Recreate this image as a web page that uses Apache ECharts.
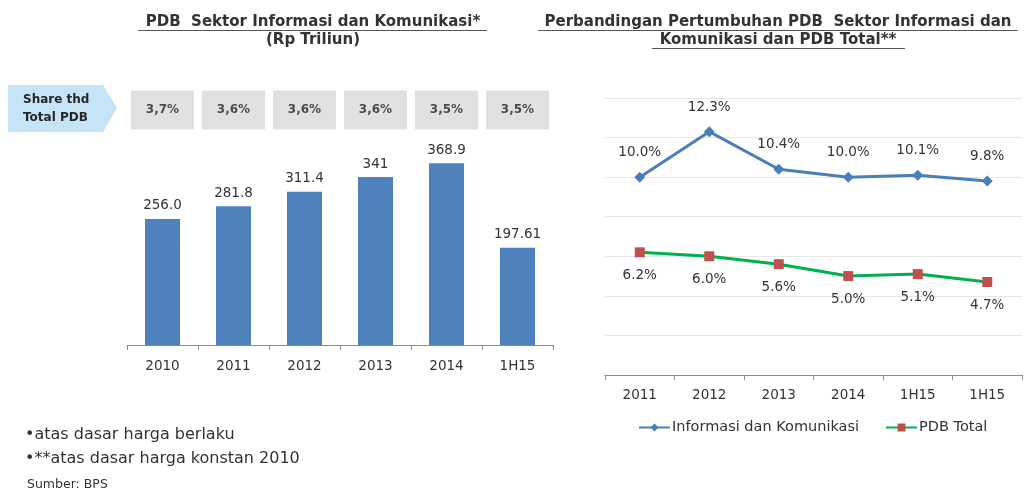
<!DOCTYPE html>
<html>
<head>
<meta charset="utf-8">
<script src="https://cdn.jsdelivr.net/npm/echarts@6/dist/echarts.min.js"></script>
<style>html,body{margin:0;padding:0;background:#fff}#c{width:1024px;height:495px}</style>
</head>
<body>
<div id="c"></div>
<script>
// Left chart data
var barCategories = ['2010', '2011', '2012', '2013', '2014', '1H15'];
var barValues = [256.0, 281.8, 311.4, 341, 368.9, 197.61];
var barLabels = ['256.0', '281.8', '311.4', '341', '368.9', '197.61'];
var shareLabels = ['3,7%', '3,6%', '3,6%', '3,6%', '3,5%', '3,5%'];
// Right chart data
var lineCategories = ['2011', '2012', '2013', '2014', '1H15', '1H15'];
var infoKomValues = [10.0, 12.3, 10.4, 10.0, 10.1, 9.8];
var pdbTotalValues = [6.2, 6.0, 5.6, 5.0, 5.1, 4.7];

var FONT = 'DejaVu Sans';
var TXT = '#333';
var chart = echarts.init(document.getElementById('c'));

var option = {
  backgroundColor: '#fff',
  animation: false,
  textStyle: { fontFamily: FONT },
  grid: [
    { left: 127, right: 471, top: 148, bottom: 150 },
    { left: 127, right: 471, top: 90, height: 40 },
    { left: 605, right: 2, top: 98, bottom: 120 }
  ],
  xAxis: [
    { type: 'category', gridIndex: 0, data: barCategories,
      axisLine: { lineStyle: { color: '#8c8c8c' } },
      axisTick: { show: true, length: 5, lineStyle: { color: '#8c8c8c' } },
      axisLabel: { color: TXT, fontSize: 13.5, margin: 14, fontFamily: FONT } },
    { type: 'category', gridIndex: 1, data: barCategories, show: false },
    { type: 'category', gridIndex: 2, data: lineCategories,
      axisLine: { lineStyle: { color: '#8c8c8c' } },
      axisTick: { show: true, length: 5, lineStyle: { color: '#8c8c8c' } },
      axisLabel: { color: TXT, fontSize: 13.5, margin: 13, fontFamily: FONT } }
  ],
  yAxis: [
    { type: 'value', gridIndex: 0, min: 0, max: 400, show: false, splitLine: { show: false } },
    { type: 'value', gridIndex: 1, min: 0, max: 1, show: false, splitLine: { show: false } },
    { type: 'value', gridIndex: 2, min: 0, max: 14, interval: 2,
      axisLine: { show: false }, axisTick: { show: false }, axisLabel: { show: false },
      splitLine: { show: true, lineStyle: { color: '#e6e6e6', width: 1 } } }
  ],
  legend: {
    left: 633, top: 415, itemWidth: 31, itemHeight: 10, itemGap: 26,
    textStyle: { color: TXT, fontSize: 14.5, fontFamily: FONT, padding: [0, 0, 0, -3] },
    data: ['Informasi dan Komunikasi', 'PDB Total']
  },
  series: [
    { type: 'bar', xAxisIndex: 0, yAxisIndex: 0, data: barValues, barWidth: 35,
      itemStyle: { color: '#4f81bd' },
      label: { show: true, position: 'top', distance: 6, color: TXT, fontSize: 13.5, fontFamily: FONT,
        formatter: function (p) { return barLabels[p.dataIndex]; } } },
    { type: 'scatter', xAxisIndex: 1, yAxisIndex: 1,
      data: shareLabels.map(function () { return 0.5; }),
      symbol: 'rect', symbolSize: [63, 39],
      itemStyle: { color: '#d9d9d9' },
      label: { show: true, position: 'inside', color: '#262626', fontSize: 12, fontWeight: 'bold', fontFamily: FONT,
        formatter: function (p) { return shareLabels[p.dataIndex]; } } },
    { type: 'line', name: 'Informasi dan Komunikasi', xAxisIndex: 2, yAxisIndex: 2, data: infoKomValues,
      symbol: 'diamond', symbolSize: 11,
      lineStyle: { color: '#4a7ebb', width: 3 }, itemStyle: { color: '#4a7ebb' },
      label: { show: true, position: 'top', distance: 12, color: TXT, fontSize: 13.5, fontFamily: FONT,
        formatter: function (p) { return p.value.toFixed(1) + '%'; } } },
    { type: 'line', name: 'PDB Total', xAxisIndex: 2, yAxisIndex: 2, data: pdbTotalValues,
      symbol: 'rect', symbolSize: 10,
      lineStyle: { color: '#00b050', width: 3 }, itemStyle: { color: '#c0504d' },
      label: { show: true, position: 'bottom', distance: 11, color: TXT, fontSize: 13.5, fontFamily: FONT,
        formatter: function (p) { return p.value.toFixed(1) + '%'; } } }
  ],
  graphic: [
    { type: 'text', x: 313, y: 22, style: { text: 'PDB  Sektor Informasi dan Komunikasi*', fill: TXT, font: 'bold 15px "DejaVu Sans"', textAlign: 'center', textVerticalAlign: 'middle' } },
    { type: 'line', shape: { x1: 138, y1: 30.5, x2: 487, y2: 30.5 }, style: { stroke: '#555', lineWidth: 1 } },
    { type: 'text', x: 313, y: 40, style: { text: '(Rp Triliun)', fill: TXT, font: 'bold 15px "DejaVu Sans"', textAlign: 'center', textVerticalAlign: 'middle' } },
    { type: 'text', x: 778, y: 22, style: { text: 'Perbandingan Pertumbuhan PDB  Sektor Informasi dan', fill: TXT, font: 'bold 15px "DejaVu Sans"', textAlign: 'center', textVerticalAlign: 'middle' } },
    { type: 'line', shape: { x1: 538, y1: 30.5, x2: 1018, y2: 30.5 }, style: { stroke: '#555', lineWidth: 1 } },
    { type: 'text', x: 778, y: 40, style: { text: 'Komunikasi dan PDB Total**', fill: TXT, font: 'bold 15px "DejaVu Sans"', textAlign: 'center', textVerticalAlign: 'middle' } },
    { type: 'line', shape: { x1: 652, y1: 48.5, x2: 905, y2: 48.5 }, style: { stroke: '#555', lineWidth: 1 } },
    { type: 'polygon', shape: { points: [[8, 85], [103, 85], [117, 108], [103, 132], [8, 132]] }, style: { fill: '#c6e4f7' } },
    { type: 'text', x: 23, y: 100, style: { text: 'Share thd', fill: '#262626', font: 'bold 12px "DejaVu Sans"', textVerticalAlign: 'middle' } },
    { type: 'text', x: 23, y: 118, style: { text: 'Total PDB', fill: '#262626', font: 'bold 12px "DejaVu Sans"', textVerticalAlign: 'middle' } },
    { type: 'text', x: 25, y: 435, style: { text: '\u2022atas dasar harga berlaku', fill: TXT, font: '16px "DejaVu Sans"', textVerticalAlign: 'middle' } },
    { type: 'text', x: 25, y: 459, style: { text: '\u2022**atas dasar harga konstan 2010', fill: TXT, font: '16px "DejaVu Sans"', textVerticalAlign: 'middle' } },
    { type: 'text', x: 27, y: 485, style: { text: 'Sumber: BPS', fill: TXT, font: '12.5px "DejaVu Sans"', textVerticalAlign: 'middle' } }
  ]
};
chart.setOption(option);
</script>
</body>
</html>
